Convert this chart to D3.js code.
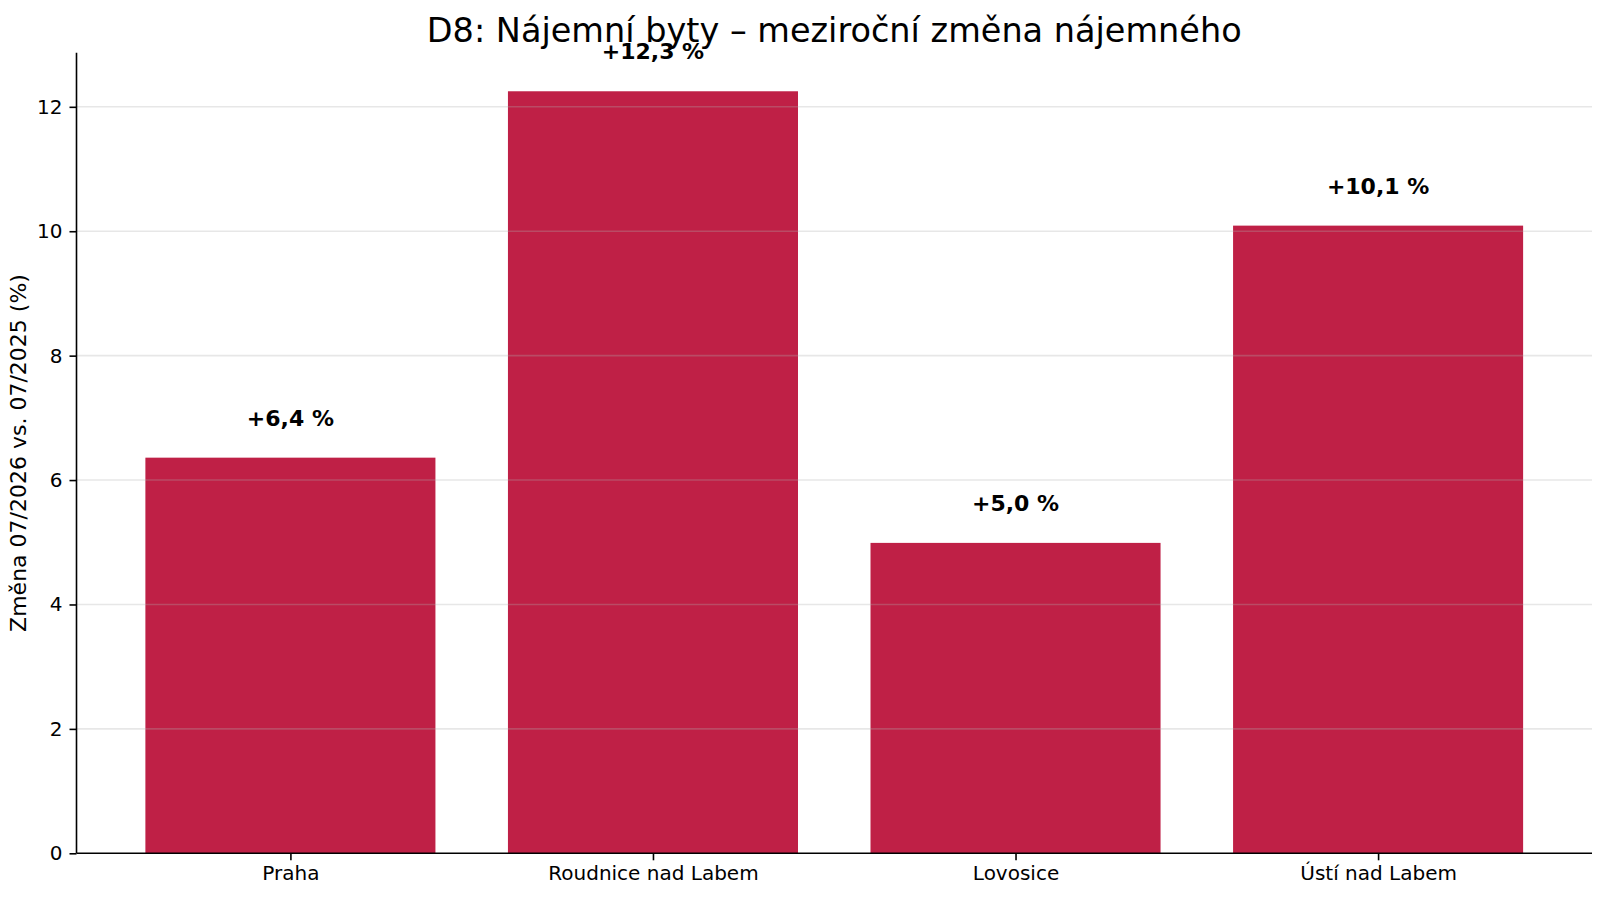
<!DOCTYPE html>
<html lang="cs">
<head>
  <meta charset="UTF-8">
  <title>D8: Nájemní byty – meziroční změna nájemného</title>
  <script src="https://d3js.org/d3.v7.min.js"></script>
  <style>
    body { margin: 0; background: #fff; }
    svg { font-family: "DejaVu Sans", sans-serif; }
    .grid line { stroke: #b0b0b0; stroke-opacity: 0.3; stroke-width: 1.6px; }
    .axis path, .axis line { stroke: #000; stroke-width: 1.6px; }
    .axis text { font-family: "DejaVu Sans", sans-serif; font-size: 20px; fill: #000; }
  </style>
</head>
<body>
  <svg width="1600" height="900"></svg>

  <script>
    // Data
    const categories = ["Praha", "Roudnice nad Labem", "Lovosice", "Ústí nad Labem"];
    const changes = [6.36, 12.25, 4.99, 10.09];
    const valueLabels = ["+6,4 %", "+12,3 %", "+5,0 %", "+10,1 %"];
    const yTicks = [0, 2, 4, 6, 8, 10, 12];

    const svg = d3.select("svg");
    const margin = { top: 52.7, right: 8, bottom: 46.7, left: 76.5 };
    const width = 1600 - margin.left - margin.right;
    const height = 900 - margin.top - margin.bottom;

    const g = svg.append("g")
      .attr("transform", `translate(${margin.left},${margin.top})`);

    // matplotlib-like positions: bars at 0..n-1, width 0.8, padded x limits
    const x = d3.scaleLinear()
      .domain([-0.59, categories.length - 1 + 0.59])
      .range([0, width]);

    const y = d3.scaleLinear()
      .domain([0, 12.87])
      .range([height, 0]);

    const barWidth = x(0.8) - x(0);

    // Bars
    g.append("g")
      .selectAll("rect")
      .data(changes)
      .enter().append("rect")
      .attr("x", (d, i) => x(i) - barWidth / 2)
      .attr("y", d => y(d))
      .attr("width", barWidth)
      .attr("height", d => y(0) - y(d))
      .attr("fill", "#bf2046");

    // Horizontal grid, drawn over the bars
    g.append("g")
      .attr("class", "grid")
      .selectAll("line")
      .data(yTicks.filter(t => t > 0))
      .enter().append("line")
      .attr("x1", 0)
      .attr("x2", width)
      .attr("y1", d => y(d))
      .attr("y2", d => y(d));

    // Value labels above the bars
    g.append("g")
      .selectAll("text")
      .data(changes)
      .enter().append("text")
      .attr("x", (d, i) => x(i))
      .attr("y", d => y(d) - 32)
      .attr("text-anchor", "middle")
      .attr("font-size", "22px")
      .attr("font-weight", "bold")
      .attr("fill", "#000")
      .text((d, i) => valueLabels[i]);

    // Axes
    const xAxis = d3.axisBottom(x)
      .tickValues(d3.range(categories.length))
      .tickFormat(i => categories[i])
      .tickSize(7)
      .tickPadding(6)
      .tickSizeOuter(0);

    g.append("g")
      .attr("class", "axis")
      .attr("transform", `translate(0,${height})`)
      .call(xAxis)
      .call(a => a.attr("font-family", null))
      .call(a => a.select(".domain").attr("d", `M0,0H${width}`));

    const yAxis = d3.axisLeft(y)
      .tickValues(yTicks)
      .tickFormat(d3.format("d"))
      .tickSize(7)
      .tickPadding(7)
      .tickSizeOuter(0);

    g.append("g")
      .attr("class", "axis")
      .call(yAxis)
      .call(a => a.attr("font-family", null))
      .call(a => a.select(".domain").attr("d", `M0,0V${height}`));

    // Y axis label
    svg.append("text")
      .attr("transform", `translate(26,${margin.top + height / 2}) rotate(-90)`)
      .attr("text-anchor", "middle")
      .attr("font-size", "22px")
      .attr("fill", "#000")
      .text("Změna 07/2026 vs. 07/2025 (%)");

    // Title
    svg.append("text")
      .attr("x", margin.left + width / 2)
      .attr("y", 42)
      .attr("text-anchor", "middle")
      .attr("font-size", "33.5px")
      .attr("fill", "#000")
      .text("D8: Nájemní byty – meziroční změna nájemného");
  </script>
</body>
</html>
